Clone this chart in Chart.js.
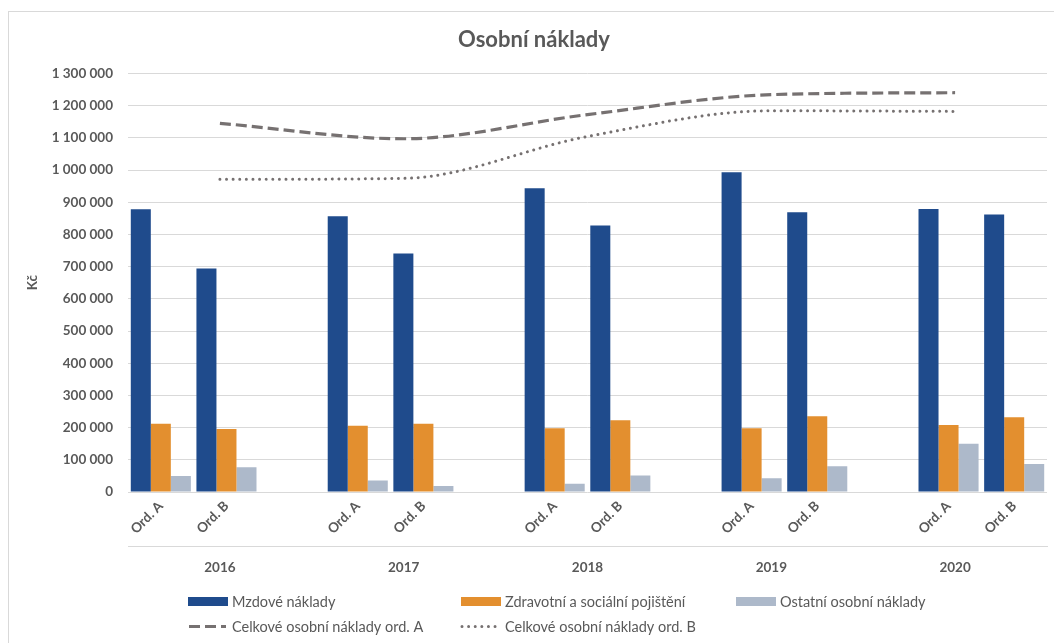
<!DOCTYPE html>
<html>
<head>
<meta charset="utf-8">
<script src="https://cdn.jsdelivr.net/npm/chart.js@4.4.0/dist/chart.umd.min.js"></script>
<style>
  html, body { margin: 0; padding: 0; background: #fff; }
  #wrap { width: 1054px; height: 643px; position: relative; }
</style>
</head>
<body>
<div id="wrap"><canvas id="c" width="1054" height="643"></canvas></div>
<script>
// Years and units inside each year
const years = ['2016', '2017', '2018', '2019', '2020'];
const units = ['Ord. A', 'Ord. B'];

// Cost items per year, in the order Ord. A, Ord. B (Kč)
const mzdove    = [878000, 694000, 856000, 741000, 943000, 828000, 993000, 869000, 879000, 862000];
const pojisteni = [212000, 196000, 206000, 212000, 198000, 223000, 198000, 235000, 208000, 232000];
const ostatni   = [ 50000,  77000,  36000,  19000,  26000,  51000,  43000,  80000, 150000,  87000];

// Total personnel costs per year
const celkemA = [1145000, 1097000, 1172000, 1234000, 1240000];
const celkemB = [ 971000,  974000, 1104000, 1184000, 1182000];

// Y axis range
const yMax = 1300000;
const yStep = 100000;

const TEXT = '#595959';
const GRID = '#D9D9D9';
const FONT = 'Lato, "Open Sans", sans-serif';

// Category slots: Ord. A, Ord. B, then an empty slot between years
const slotLabels = [];
const slotIndex = [];
years.forEach((y, i) => {
  units.forEach((u, j) => { slotLabels.push(u); slotIndex.push(i * units.length + j); });
  if (i < years.length - 1) { slotLabels.push(''); slotIndex.push(-1); }
});
const toSlots = arr => slotIndex.map(k => (k < 0 ? null : arr[k]));

const fmt = v => String(v).replace(/\B(?=(\d{3})+(?!\d))/g, ' ');

// Outer frame and white background
const framePlugin = {
  id: 'frame',
  beforeDraw(chart) {
    const ctx = chart.ctx;
    ctx.save();
    ctx.fillStyle = '#fff';
    ctx.fillRect(0, 0, chart.width, chart.height);
    ctx.strokeStyle = GRID;
    ctx.lineWidth = 1;
    ctx.strokeRect(8.5, 11.5, chart.width + 20, chart.height + 20);
    ctx.restore();
  }
};

// Two-row legend laid out in columns
const legendPlugin = {
  id: 'gridLegend',
  afterDraw(chart) {
    const ctx = chart.ctx;
    const x2 = chart.scales.x2;
    const colX = [188, 461, 736];
    const rowY = [x2.bottom + 15, x2.bottom + 40];
    const place = [[0, 0], [0, 1], [0, 2], [1, 0], [1, 1]];
    ctx.save();
    ctx.font = '14.5px ' + FONT;
    ctx.textBaseline = 'middle';
    chart.data.datasets.forEach((ds, i) => {
      const [r, c] = place[i];
      const x = colX[c], y = Math.round(rowY[r]);
      if (ds.type === 'line') {
        ctx.save();
        ctx.strokeStyle = ds.borderColor;
        ctx.lineWidth = ds.borderWidth;
        ctx.lineCap = ds.borderCapStyle || 'butt';
        ctx.setLineDash(ds.borderDash || []);
        ctx.beginPath();
        ctx.moveTo(x + 1, y + 0.5);
        ctx.lineTo(x + 38, y + 0.5);
        ctx.stroke();
        ctx.restore();
      } else {
        ctx.fillStyle = ds.backgroundColor;
        ctx.fillRect(x, y - 4, 40, 9);
      }
      ctx.fillStyle = TEXT;
      ctx.fillText(ds.label, x + 44, y + 1);
    });
    ctx.restore();
  }
};

const barCommon = { type: 'bar', xAxisID: 'x', yAxisID: 'y', order: 2, indexAxis: 'x',
  categoryPercentage: 0.915, barPercentage: 1.0, borderWidth: 0 };
const lineCommon = { type: 'line', xAxisID: 'x2', yAxisID: 'y', order: 1, indexAxis: 'x',
  borderColor: '#767171', pointRadius: 0, cubicInterpolationMode: 'monotone', fill: false };

new Chart(document.getElementById('c'), {
  data: {
    labels: slotLabels,
    datasets: [
      Object.assign({ label: 'Mzdové náklady', data: toSlots(mzdove), backgroundColor: '#1F4B8C' }, barCommon),
      Object.assign({ label: 'Zdravotní a sociální pojištění', data: toSlots(pojisteni), backgroundColor: '#E38F2F' }, barCommon),
      Object.assign({ label: 'Ostatní osobní náklady', data: toSlots(ostatni), backgroundColor: '#ADB9CA' }, barCommon),
      Object.assign({ label: 'Celkové osobní náklady ord. A', data: celkemA,
        borderWidth: 3.2, borderDash: [11, 5], borderCapStyle: 'butt' }, lineCommon),
      Object.assign({ label: 'Celkové osobní náklady ord. B', data: celkemB,
        borderWidth: 3, borderDash: [0.01, 6.6], borderCapStyle: 'round' }, lineCommon)
    ]
  },
  options: {
    responsive: false,
    animation: false,
    // bars and lines share the value axis, so bar groups are sized against one category axis
    indexAxis: 'y',
    datasets: { bar: { indexAxis: 'x' }, line: { indexAxis: 'x' } },
    layout: { padding: { left: 21, right: 7, top: 0, bottom: 57 } },
    plugins: {
      legend: { display: false },
      tooltip: { enabled: false },
      title: {
        display: true, text: 'Osobní náklady', color: TEXT,
        font: { family: FONT, size: 22, weight: 'bold', lineHeight: 1.2 },
        padding: { top: 27, bottom: 20 }
      }
    },
    scales: {
      y: {
        type: 'linear', axis: 'y', position: 'left', offset: false,
        min: 0, max: yMax,
        afterFit: s => { s.width = 107; },
        grid: { color: GRID, lineWidth: 1, drawTicks: false, offset: false },
        border: { display: false },
        ticks: { stepSize: yStep, padding: 15, color: TEXT,
          font: { family: FONT, size: 13.5, weight: 'bold' }, callback: v => fmt(v) },
        title: { display: true, text: 'Kč', color: TEXT, padding: { top: 4, bottom: 0 },
          font: { family: FONT, size: 13.5, weight: 'bold', lineHeight: 1.2 } }
      },
      x: {
        type: 'category', axis: 'x', labels: slotLabels, position: 'bottom', offset: true,
        afterFit: s => { s.height = 54; },
        grid: { display: false, drawTicks: false, offset: true },
        border: { display: false },
        ticks: { minRotation: 45, maxRotation: 45, autoSkip: false, padding: 6, color: TEXT,
          font: { family: FONT, size: 13.5, weight: 'bold' } }
      },
      x2: {
        type: 'category', axis: 'x', labels: years, position: 'bottom', offset: true,
        afterFit: s => { s.height = 40; },
        grid: { display: false, drawTicks: false },
        border: { display: true, color: GRID, width: 1 },
        ticks: { padding: 14, color: TEXT, font: { family: FONT, size: 13.5, weight: 'bold' } }
      }
    }
  },
  plugins: [framePlugin, legendPlugin]
});
</script>
</body>
</html>
